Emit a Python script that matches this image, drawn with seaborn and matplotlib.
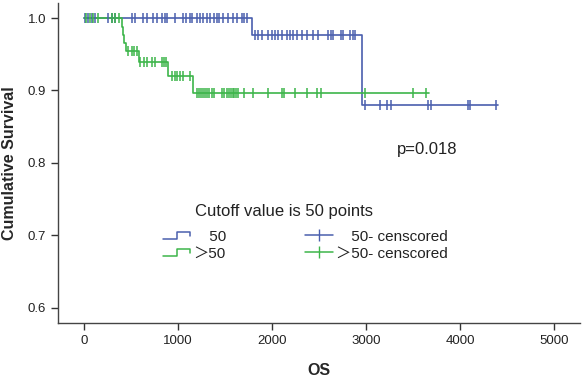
#Kaplan-Meier style survival curves, cutoff 50 points
import numpy as np
import matplotlib
matplotlib.use('Agg')
import matplotlib.pyplot as plt
import seaborn as sns
from matplotlib.lines import Line2D
from matplotlib.legend_handler import HandlerBase

#Step curves: event times and survival after each step
blue_times = [0, 1790, 2960, 4400]
blue_surv = [1.0, 0.977, 0.880, 0.880]
green_times = [0, 400, 415, 430, 445, 580, 897, 1156, 3665]
green_surv = [1.0, 0.988, 0.977, 0.966, 0.955, 0.939, 0.920, 0.897, 0.897]

#Censored observations
blue_cens = [11, 46, 82, 117, 259, 294, 330, 507, 543, 624, 674, 731, 773, 826, 862,
             887, 968, 1050, 1085, 1128, 1145, 1199, 1234, 1270, 1305, 1341, 1383,
             1412, 1440, 1482, 1536, 1582, 1625, 1677, 1702, 1731,
             1819, 1855, 1890, 1961, 1996, 2032, 2067, 2103, 2156, 2191, 2227, 2262,
             2316, 2369, 2440, 2493, 2599, 2624, 2652, 2730, 2752, 2830, 2858, 2883,
             2989, 3149, 3227, 3262, 3663, 3688, 4089, 4106, 4383]
green_cens = [20, 60, 100, 150, 300, 330, 372,
              472, 507, 532, 560,
              596, 638, 674, 720, 755, 826, 851, 872,
              933, 968, 993, 1021, 1057, 1128,
              1206, 1227, 1248, 1270, 1291, 1312, 1333, 1360, 1383, 1465, 1490, 1518,
              1540, 1560, 1580, 1596, 1620, 1642, 1702, 1794, 1961, 2103, 2128, 2245,
              2376, 2475, 2518, 2989, 3496, 3638]

blue = '#4a5fae'
green = '#3db54a'

def surv_at(times, surv, pts):
    idx = np.searchsorted(times, pts, side='right') - 1
    return np.array(surv)[idx]

sns.set_style('white')
plt.rcParams['font.family'] = ['Liberation Sans', 'Noto Sans CJK SC', 'DejaVu Sans']

fig = plt.figure(figsize=(5.83, 3.8), dpi=100)
ax = fig.add_axes([0.0995, 0.15, 0.8955, 0.842])

sns.lineplot(x=blue_times, y=blue_surv, drawstyle='steps-post', color=blue, lw=1.2,
             estimator=None, sort=False, ax=ax)
sns.lineplot(x=green_times, y=green_surv, drawstyle='steps-post', color=green, lw=1.2,
             estimator=None, sort=False, ax=ax)
sns.scatterplot(x=blue_cens, y=surv_at(blue_times, blue_surv, blue_cens), marker='|',
                s=45, color=blue, linewidth=1.1, ax=ax, zorder=3)
sns.scatterplot(x=green_cens, y=surv_at(green_times, green_surv, green_cens), marker='|',
                s=45, color=green, linewidth=1.1, ax=ax, zorder=3)

ax.set_xlim(-277, 5277)
ax.set_ylim(0.579, 1.0207)
ax.set_xticks([0, 1000, 2000, 3000, 4000, 5000])
ax.set_yticks([0.6, 0.7, 0.8, 0.9, 1.0])
ax.set_yticklabels(['0.6', '0.7', '0.8', '0.9', '1.0'])
ax.tick_params(axis='both', direction='out', length=5, width=1, color='#333333',
               labelsize=9.5, labelcolor='#222222', left=True, bottom=True)
for s in ['top', 'right']:
    ax.spines[s].set_visible(False)
for s in ['left', 'bottom']:
    ax.spines[s].set_color('#444444')
    ax.spines[s].set_linewidth(1)

ax.set_xlabel('OS', fontsize=11.5, fontweight='bold', labelpad=12)
ax.set_ylabel('Cumulative Survival', fontsize=11.5, fontweight='bold', labelpad=8)

ax.text(3330, 0.818, 'p=0.018', fontsize=12, color='#222222', va='center')

#Legend with step glyphs
class StepHandler(HandlerBase):
    def create_artists(self, legend, orig, xd, yd, w, h, fontsize, trans):
        xs = [xd, xd + 0.5 * w, xd + 0.5 * w, xd + 0.95 * w, xd + 0.95 * w]
        ys = [yd + 0.15 * h, yd + 0.15 * h, yd + 0.8 * h, yd + 0.8 * h, yd + 0.45 * h]
        ln = Line2D(xs, ys, color=orig.get_color(), lw=1.1, transform=trans)
        return [ln]

ax.text(0.2625, 0.347, 'Cutoff value is 50 points', fontsize=12, color='#222222',
        va='center', ha='left', transform=ax.transAxes)

h1 = Line2D([], [], color=blue)
h2 = Line2D([], [], color=green)
h3 = Line2D([0], [0], color=blue, marker='|', markersize=9, lw=1.1)
h4 = Line2D([0], [0], color=green, marker='|', markersize=9, lw=1.1)
leg = ax.legend([h1, h2, h3, h4],
                ['\u300050', '＞50', '\u300050- censcored', '＞50- censcored'],
                handler_map={h1: StepHandler(), h2: StepHandler()},
                ncol=2, fontsize=11, frameon=False, loc='upper left', borderpad=0,
                borderaxespad=0, bbox_to_anchor=(0.201, 0.292), handlelength=1.85,
                handletextpad=0.15, columnspacing=5.2, labelspacing=0.2, numpoints=1)
for t in leg.get_texts():
    t.set_color('#222222')

plt.savefig('out.png', dpi=100)
